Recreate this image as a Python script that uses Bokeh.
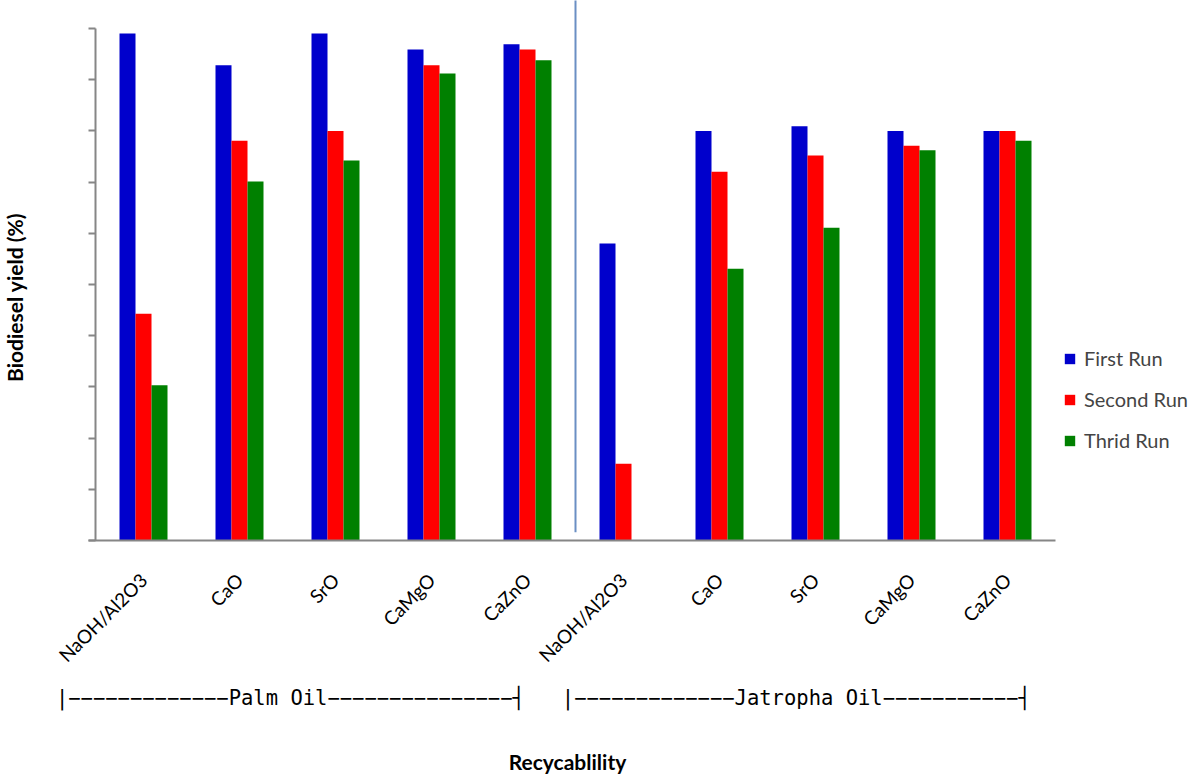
import math
from bokeh.plotting import figure
from bokeh.models import ColumnDataSource, FixedTicker, Legend, LegendItem, LinearAxis
from bokeh.transform import dodge
from bokeh.core.properties import value
from bokeh.embed import file_html
from bokeh.resources import INLINE

# ---------------- data ----------------
categories = ["NaOH/Al2O3", "CaO", "SrO", "CaMgO", "CaZnO",
              "NaOH/Al2O3", "CaO", "SrO", "CaMgO", "CaZnO"]
first_run = [99.0, 92.8, 99.0, 95.9, 96.9, 58.0, 80.0, 80.9, 80.0, 80.0]
second_run = [44.3, 78.1, 80.0, 92.8, 95.9, 15.0, 72.0, 75.2, 77.1, 80.0]
third_run = [30.3, 70.1, 74.2, 91.2, 93.8, 0.0, 53.1, 61.1, 76.2, 78.1]
series_names = ["First Run", "Second Run", "Thrid Run"]
group_labels = ["|" + "−" * 13 + "Palm Oil" + "−" * 15 + "┤",
                "|" + "−" * 13 + "Jatropha Oil" + "−" * 11 + "┤"]
group_pos = [2.03, 7.30]
y_ticks = [0, 10, 20, 30, 40, 50, 60, 70, 80, 90, 100]
x_title = "Recycablility"
y_title = "Biodiesel yield (%)"

# ---------------- layout (pixels) ----------------
W, H = 1200, 776
AXIS_X, AXIS_Y = 95, 540        # where the y axis and the baseline sit
PX_PER_X, PX_PER_Y = 96.0, 5.12
n = len(categories)

def dx(px):
    return (px - AXIS_X) / PX_PER_X

def dy(py):
    return (AXIS_Y - py) / PX_PER_Y

colors = ["#0000CC", "#FF0000", "#008000"]
FONT = "Lato"
AX_GRAY = "#868686"

src = ColumnDataSource(dict(
    x=[i + 0.5 for i in range(n)],
    first=first_run, second=second_run, third=third_run,
))

p = figure(width=W, height=H, output_backend="svg", toolbar_location=None,
           x_range=(dx(0), dx(W)), y_range=(dy(H), dy(0)),
           x_axis_location=None, y_axis_location=None,
           min_border_left=0, min_border_right=0, min_border_top=0, min_border_bottom=0)
p.outline_line_color = None
p.xgrid.visible = False
p.ygrid.visible = False

bw = 1.0 / 6.0
renderers = []
for off, col, c in zip([-bw, 0.0, bw], ["first", "second", "third"], colors):
    r = p.vbar(x=dodge("x", off, range=p.x_range), top=col, bottom=0, width=bw,
               source=src, fill_color=c, line_color=None)
    renderers.append(r)

# separator between the two oils
p.segment(x0=[n / 2], y0=[1.6], x1=[n / 2], y1=[dy(0) + 5],
          line_color="#6B8FC4", line_width=2)

# ---- y axis (drawn at x = 0) ----
yax = LinearAxis(ticker=FixedTicker(ticks=y_ticks), bounds=(0, 100), fixed_location=0)
yax.major_label_overrides = {t: "" for t in y_ticks}
yax.axis_line_color = AX_GRAY
yax.axis_line_width = 2
yax.major_tick_line_color = AX_GRAY
yax.major_tick_line_width = 2
yax.major_tick_out = 7
yax.major_tick_in = 0
yax.minor_tick_out = 0
yax.minor_tick_in = 0
p.add_layout(yax, "left")

# ---- x axis (drawn at y = 0) ----
xax = LinearAxis(ticker=FixedTicker(ticks=[i + 0.5 for i in range(n)]),
                 bounds=(dx(88), n), fixed_location=0)
xax.major_label_overrides = {i + 0.5: c for i, c in enumerate(categories)}
xax.major_label_orientation = math.pi / 4
xax.major_label_text_font = FONT
xax.major_label_text_font_size = "19px"
xax.major_label_text_color = "black"
xax.major_label_standoff = 36
xax.axis_line_color = AX_GRAY
xax.axis_line_width = 2
xax.major_tick_out = 0
xax.major_tick_in = 0
xax.minor_tick_out = 0
xax.minor_tick_in = 0
p.add_layout(xax, "below")

# ---- oil group brackets ----
p.text(x=group_pos, y=[dy(697)] * len(group_pos), text=group_labels,
       text_align="center", text_baseline="middle",
       text_font=value("DejaVu Sans Mono"), text_font_size="20.5px", text_color="black")

# ---- axis titles ----
p.text(x=[dx(567)], y=[dy(761)], text=[x_title], text_align="center", text_baseline="middle",
       text_font=value(FONT), text_font_size="21px", text_font_style="bold", text_color="black")
p.text(x=[dx(14)], y=[dy(297)], text=[y_title], angle=math.pi / 2,
       text_align="center", text_baseline="middle",
       text_font=value(FONT), text_font_size="21px", text_font_style="bold", text_color="black")

# ---- legend ----
legend = Legend(items=[LegendItem(label=s, renderers=[r]) for s, r in zip(series_names, renderers)],
                location=(1063, 776 - 452), orientation="vertical")
legend.background_fill_alpha = 0
legend.border_line_color = None
legend.label_text_font = FONT
legend.label_text_font_size = "20px"
legend.glyph_width = 13
legend.glyph_height = 13
legend.label_height = 22
legend.spacing = 17
legend.label_standoff = 8
legend.padding = 10
legend.margin = 0
p.add_layout(legend)

open("out.html", "w").write(file_html(p, INLINE))
